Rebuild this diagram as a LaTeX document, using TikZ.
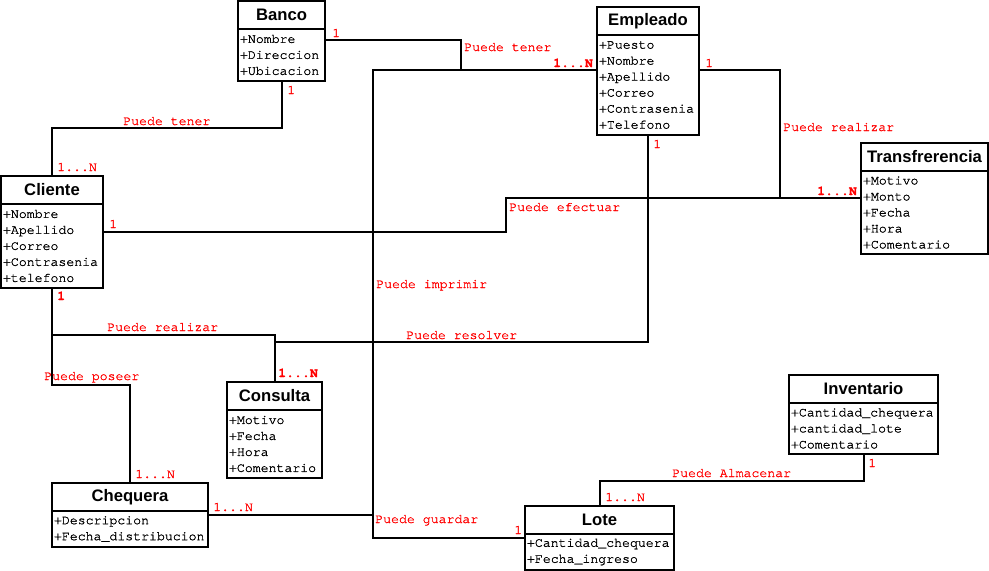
\documentclass[tikz,border=0pt]{standalone}
\usepackage{fontspec}
\setmainfont{Liberation Sans}
\setmonofont{TeX Gyre Cursor}[FakeBold=1.2]
\usetikzlibrary{positioning}

\begin{document}
\begin{tikzpicture}[
    x=0.75pt, y=-0.75pt,
    box/.style={draw, line width=1.6pt, outer sep=0pt, fill=white},
    title/.style={box, anchor=north west, minimum height=21pt, inner sep=0pt,
                  font=\fontsize{12.5}{14}\selectfont\bfseries},
    attrs/.style={box, inner xsep=1.5pt, inner ysep=0pt, align=left,
                  font=\fontsize{9.9}{12}\selectfont\ttfamily},
    rel/.style={line width=1.5pt},
    lbl/.style={anchor=base west, inner sep=0pt, text=red,
                font=\fontsize{9.9}{12}\selectfont\ttfamily}
  ]
  \useasboundingbox[fill=white] (0,0) rectangle (989,571);

  % classes
  \node[title, minimum width=65.25pt] (banco) at (238,1) {Banco};
  \node[attrs, below=0pt of banco, text width=62.25pt, minimum height=39pt]
    (banco-a) {+Nombre\\+Direccion\\+Ubicacion};

  \node[title, minimum width=76.5pt] (empleado) at (597,7) {Empleado};
  \node[attrs, below=0pt of empleado, text width=73.5pt, minimum height=75pt]
    (empleado-a) {+Puesto\\+Nombre\\+Apellido\\+Correo\\+Contrasenia\\+Telefono};

  \node[title, minimum width=95.25pt] (transf) at (861,143) {Transfrerencia};
  \node[attrs, below=0pt of transf, text width=92.25pt, minimum height=62.25pt]
    (transf-a) {+Motivo\\+Monto\\+Fecha\\+Hora\\+Comentario};

  \node[title, minimum width=76.5pt] (cliente) at (1,176) {Cliente};
  \node[attrs, below=0pt of cliente, text width=73.5pt, minimum height=63pt]
    (cliente-a) {+Nombre\\+Apellido\\+Correo\\+Contrasenia\\+telefono};

  \node[title, minimum width=71.25pt] (consulta) at (227,382) {Consulta};
  \node[attrs, below=0pt of consulta, text width=68.25pt, minimum height=51pt]
    (consulta-a) {+Motivo\\+Fecha\\+Hora\\+Comentario};

  \node[title, minimum width=117pt] (chequera) at (52,483) {Chequera};
  \node[attrs, below=0pt of chequera, text width=114pt, minimum height=27pt]
    (chequera-a) {+Descripcion\\+Fecha\_distribucion};

  \node[title, minimum width=111.75pt] (lote) at (525,506) {Lote};
  \node[attrs, below=0pt of lote, text width=108.75pt, minimum height=27pt]
    (lote-a) {+Cantidad\_chequera\\+Fecha\_ingreso};

  \node[title, minimum width=111.75pt] (inventario) at (789,375) {Inventario};
  \node[attrs, below=0pt of inventario, text width=108.75pt, minimum height=38.25pt]
    (inventario-a) {+Cantidad\_chequera\\+cantidad\_lote\\+Comentario};

  % relations
  \draw[rel] (banco-a.east |- 0,40) -- (461,40) -- (461,70);
  \draw[rel] (empleado-a.west |- 0,70) -- (373,70) -- (373,515)
    -- (chequera-a.east |- 0,515);
  \draw[rel] (373,515) -- (373,538) -- (lote-a.west |- 0,538);
  \draw[rel] (banco-a.south) |- (cliente.north |- 0,128) -- (cliente.north);
  \draw[rel] (cliente-a.east |- 0,232) -- (506,232) -- (506,198)
    -- (transf-a.west |- 0,198);
  \draw[rel] (empleado-a.east |- 0,70) -| (780,198);
  \draw[rel] (empleado-a.south) |- (consulta.north |- 0,342);
  \draw[rel] (cliente-a.south) |- (consulta.north |- 0,335) -- (consulta.north);
  \draw[rel] (cliente-a.south) |- (chequera.north |- 0,385) -- (chequera.north);
  \draw[rel] (inventario-a.south) |- (lote.north |- 0,481) -- (lote.north);

  % labels
  \node[lbl] (m-banco-e) at (332,37) {1};
  \node[lbl] (t-tener-e) at (464,51) {Puede tener};
  \node[lbl, font=\fontsize{9.9}{12}\selectfont\ttfamily\bfseries] (m-empl-w) at (553,67) {1...N};
  \node[lbl] (m-banco-s) at (287,94) {1};
  \node[lbl] (t-tener-c) at (123,125) {Puede tener};
  \node[lbl] (m-cli-n) at (57,171) {1...N};
  \node[lbl] (m-empl-e) at (705,67) {1};
  \node[lbl] (t-realizar-t) at (783,131) {Puede realizar};
  \node[lbl] (m-empl-s) at (653,148) {1};
  \node[lbl, font=\fontsize{9.9}{12}\selectfont\ttfamily\bfseries] (m-transf) at (817,195) {1...N};
  \node[lbl] (t-efectuar) at (509,211) {Puede efectuar};
  \node[lbl] (m-cli-e) at (109,228) {1};
  \node[lbl] (t-imprimir) at (376,288) {Puede imprimir};
  \node[lbl] (t-resolver) at (406,339) {Puede resolver};
  \node[lbl, font=\fontsize{9.9}{12}\selectfont\ttfamily\bfseries] (m-cli-s) at (57,300) {1};
  \node[lbl] (t-realizar-c) at (107,331) {Puede realizar};
  \node[lbl, font=\fontsize{9.9}{12}\selectfont\ttfamily\bfseries] (m-cons) at (278,377) {1...N};
  \node[lbl] (t-poseer) at (44,380) {Puede poseer};
  \node[lbl] (m-cheq-n) at (135,478) {1...N};
  \node[lbl] (m-cheq-e) at (213,511) {1...N};
  \node[lbl] (t-guardar) at (375,523) {Puede guardar};
  \node[lbl] (m-lote-w) at (514,534) {1};
  \node[lbl] (m-lote-n) at (605,501) {1...N};
  \node[lbl] (t-almacenar) at (672,477) {Puede Almacenar};
  \node[lbl] (m-inv-s) at (868,467) {1};
\end{tikzpicture}
\end{document}
